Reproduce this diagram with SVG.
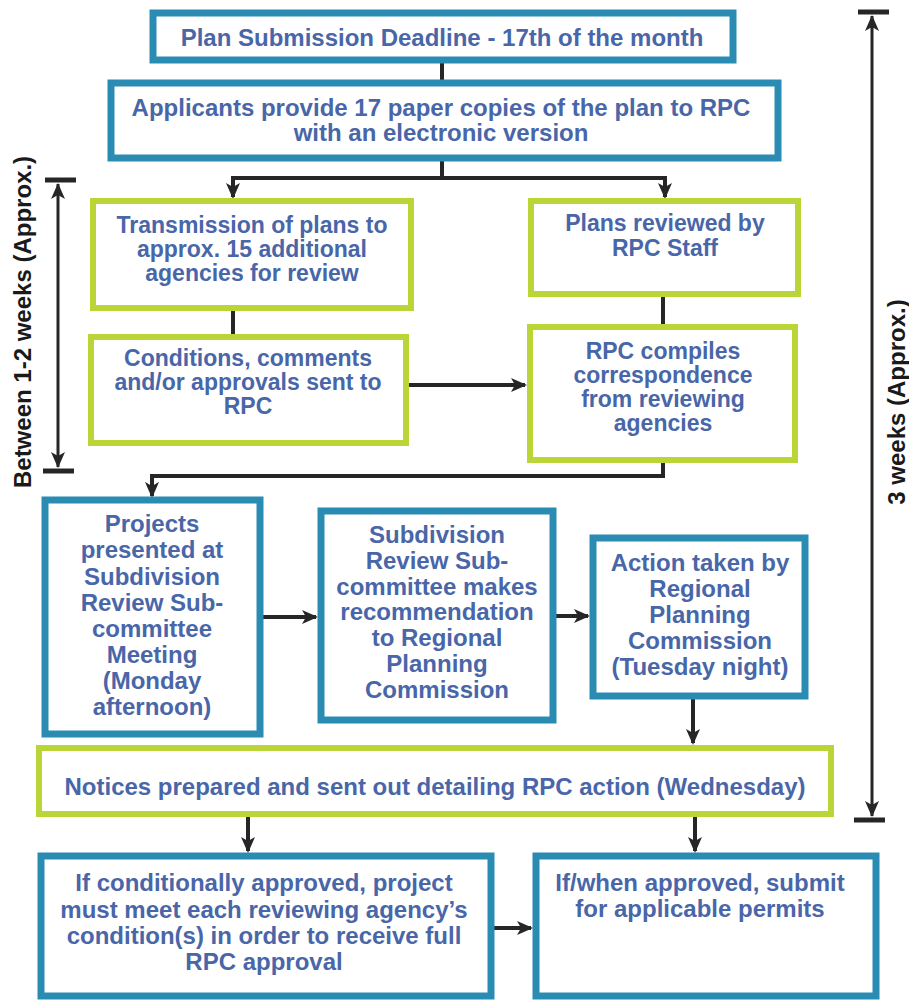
<svg xmlns="http://www.w3.org/2000/svg" width="909" height="1001" viewBox="0 0 909 1001">
<style>
.teal{fill:#fff;stroke:#2a8cb2;stroke-width:7}
.green{fill:#fff;stroke:#bad538;stroke-width:6}
.t{font-family:"Liberation Sans",Arial,sans-serif;font-weight:bold;font-size:24px;fill:#4866a8;text-anchor:middle}
.s{font-size:23px}
.lbl{font-family:"Liberation Sans",Arial,sans-serif;font-weight:bold;font-size:24px;fill:#1a1a1a;text-anchor:middle}
.c{fill:none;stroke:#262626;stroke-width:4}
.b{fill:none;stroke:#262626;stroke-width:3}
.cap{stroke:#262626;stroke-width:5}
</style>
<defs>
<marker id="ah" markerUnits="userSpaceOnUse" markerWidth="16" markerHeight="16" viewBox="0 0 16 16" refX="14" refY="8" orient="auto">
<path d="M0,1 L16,8 L0,15 L4,8 Z" fill="#262626"/>
</marker>
<marker id="bh" markerUnits="userSpaceOnUse" markerWidth="16" markerHeight="14" viewBox="0 0 16 14" refX="15" refY="7" orient="auto-start-reverse">
<path d="M0,0 L16,7 L0,14 L4,7 Z" fill="#262626"/>
</marker>
</defs>

<g id="connectors">
<path class="c" d="M442,62 V80"/>
<path class="c" d="M442,160 V178 H233 V197" marker-end="url(#ah)"/>
<path class="c" d="M442,178 H665 V197" marker-end="url(#ah)"/>
<path class="c" d="M233,310 V334"/>
<path class="c" d="M663,296 V324"/>
<path class="c" d="M408,385 H525" marker-end="url(#ah)"/>
<path class="c" d="M663,462 V476 H152 V496" marker-end="url(#ah)"/>
<path class="c" d="M262,617 H316" marker-end="url(#ah)"/>
<path class="c" d="M555,616 H588" marker-end="url(#ah)"/>
<path class="c" d="M693,698 V743" marker-end="url(#ah)"/>
<path class="c" d="M248,816 V851" marker-end="url(#ah)"/>
<path class="c" d="M695,816 V851" marker-end="url(#ah)"/>
<path class="c" d="M493,928 H531" marker-end="url(#ah)"/>
</g>

<g id="bracket-left">
<line class="cap" x1="45" y1="180" x2="76" y2="180"/>
<line class="cap" x1="43" y1="471" x2="74" y2="471"/>
<path class="b" d="M58,184 V467" marker-start="url(#bh)" marker-end="url(#bh)"/>
<text class="lbl" transform="translate(31,322) rotate(-90)">Between 1-2 weeks (Approx.)</text>
</g>

<g id="bracket-right">
<line class="cap" x1="858" y1="12" x2="889" y2="12"/>
<line class="cap" x1="854" y1="820" x2="885" y2="820"/>
<path class="b" d="M872,16 V816" marker-start="url(#bh)" marker-end="url(#bh)"/>
<text class="lbl" transform="translate(905,402) rotate(-90)">3 weeks (Approx.)</text>
</g>

<g id="n1">
<rect class="teal" x="153" y="13" width="580" height="47"/>
<text class="t" x="442" y="46">Plan Submission Deadline  - 17th of the month</text>
</g>

<g id="n2">
<rect class="teal" x="111" y="83" width="667" height="75"/>
<text class="t" x="441" y="116">Applicants provide 17 paper copies of the plan to RPC</text>
<text class="t" x="441" y="141">with an electronic version</text>
</g>

<g id="n3">
<rect class="green" x="93" y="201" width="318" height="107"/>
<text class="t s" x="252" y="233">Transmission of plans to</text>
<text class="t s" x="252" y="257">approx. 15 additional</text>
<text class="t s" x="252" y="281">agencies for review</text>
</g>

<g id="n4">
<rect class="green" x="91" y="337" width="315" height="106"/>
<text class="t s" x="248" y="366">Conditions, comments</text>
<text class="t s" x="248" y="390">and/or approvals sent to</text>
<text class="t s" x="248" y="414">RPC</text>
</g>

<g id="n5">
<rect class="green" x="531" y="201" width="267" height="93"/>
<text class="t s" x="665" y="231">Plans reviewed by</text>
<text class="t s" x="665" y="256">RPC Staff</text>
</g>

<g id="n6">
<rect class="green" x="530" y="327" width="265" height="133"/>
<text class="t s" x="663" y="359">RPC compiles</text>
<text class="t s" x="663" y="383">correspondence</text>
<text class="t s" x="663" y="407">from reviewing</text>
<text class="t s" x="663" y="431">agencies</text>
</g>

<g id="n7">
<rect class="teal" x="45" y="500" width="215" height="234"/>
<text class="t" x="152" y="532">Projects</text>
<text class="t" x="152" y="558">presented at</text>
<text class="t" x="152" y="585">Subdivision</text>
<text class="t" x="152" y="611">Review Sub-</text>
<text class="t" x="152" y="637">committee</text>
<text class="t" x="152" y="663">Meeting</text>
<text class="t" x="152" y="689">(Monday</text>
<text class="t" x="152" y="715">afternoon)</text>
</g>

<g id="n8">
<rect class="teal" x="321" y="511" width="232" height="209"/>
<text class="t" x="437" y="543">Subdivision</text>
<text class="t" x="437" y="569">Review Sub-</text>
<text class="t" x="437" y="595">committee makes</text>
<text class="t" x="437" y="620">recommendation</text>
<text class="t" x="437" y="646">to Regional</text>
<text class="t" x="437" y="672">Planning</text>
<text class="t" x="437" y="698">Commission</text>
</g>

<g id="n9">
<rect class="teal" x="593" y="538" width="212" height="158"/>
<text class="t" x="700" y="571">Action taken by</text>
<text class="t" x="700" y="597">Regional</text>
<text class="t" x="700" y="623">Planning</text>
<text class="t" x="700" y="649">Commission</text>
<text class="t" x="700" y="675">(Tuesday night)</text>
</g>

<g id="n10">
<rect class="green" x="39" y="748" width="792" height="66"/>
<text class="t" x="435" y="795">Notices prepared and sent out detailing RPC action (Wednesday)</text>
</g>

<g id="n11">
<rect class="teal" x="41" y="856" width="450" height="140"/>
<text class="t" x="264" y="891">If conditionally approved, project</text>
<text class="t" x="264" y="918">must meet each reviewing agency’s</text>
<text class="t" x="264" y="944">condition(s) in order to receive full</text>
<text class="t" x="264" y="970">RPC approval</text>
</g>

<g id="n12">
<rect class="teal" x="536" y="856" width="340" height="140"/>
<text class="t" x="700" y="891">If/when approved, submit</text>
<text class="t" x="700" y="917">for applicable permits</text>
</g>
</svg>
